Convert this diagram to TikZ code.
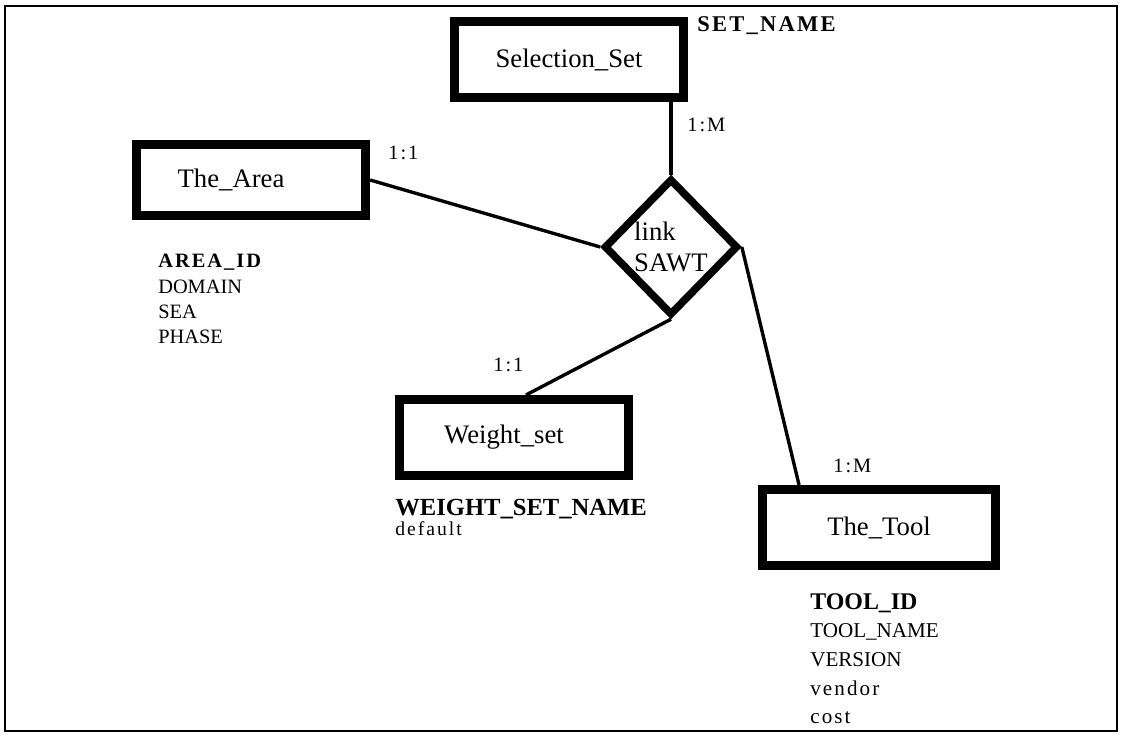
\documentclass[tikz,border=0pt]{standalone}
\usepackage{fontspec}
\setmainfont{Liberation Serif}
\newfontfamily\widefont[LetterSpace=10]{Liberation Serif}
\usetikzlibrary{shapes.geometric}
\usetikzlibrary{calc}

\begin{document}
\begin{tikzpicture}[x=0.025cm, y=-0.025cm,
  entity/.style={draw, rectangle, line width=6.4pt, minimum width=5.73cm, minimum height=1.9cm, inner sep=0pt, font=\fontsize{19}{22}\selectfont},
  relation/.style={draw, diamond, line width=5.4pt, minimum width=3.35cm, minimum height=3.42cm, inner sep=0pt, align=left, font=\fontsize{19}{22}\selectfont},
  conn/.style={line width=2.4pt},
  card/.style={anchor=base west, inner sep=0pt, font=\fontsize{14.5}{17}\widefont},
  attr/.style={anchor=north west, inner sep=0pt, align=left}]

\useasboundingbox (0,0) rectangle (1122,740);
\draw[line width=1.8pt] (5,6) rectangle (1117,731);

% entities and the relation
\node[entity] (sel) at (569,59.5) {Selection\_Set};
\node[entity, minimum height=1.77cm] (area) at (251,180) {The\_Area\hspace*{1cm}};
\node[entity] (wset) at (514,437.5) {Weight\_set\hspace*{0.5cm}};
\node[entity, minimum width=5.83cm] (tool) at (879,527.5) {The\_Tool};
\node[relation] (sawt) at (671,247) {link\\SAWT};

\draw[conn] (sawt.north |- sel.south) -- (sawt.north);
\draw[conn] (area.east) -- (sawt.west);
\draw[conn] (sawt.south) -- ($(wset.north west)!0.55!(wset.north east)$);
\draw[conn] (sawt.east) -- ($(tool.north west)!0.17!(tool.north east)$);

% cardinalities
\node[card] (cardsel) at (687,132) {1:M};
\node[card] (cardarea) at (388,160) {1:1};
\node[card] (cardwset) at (493,372) {1:1};
\node[card] (cardtool) at (833,472) {1:M};

% attributes
\node[card, font=\fontsize{16}{18}\widefont\bfseries] (setname) at (697,32) {SET\_NAME};
\node[attr, font=\fontsize{14.5}{18}\selectfont] (areaattr) at (158,254)
  {{\widefont\bfseries AREA\_ID}\\DOMAIN\\SEA\\PHASE};
\node[card, font=\fontsize{17.5}{20}\selectfont\bfseries] (wsetname) at (395,515) {WEIGHT\_SET\_NAME};
\node[card, font=\fontsize{14}{16}\widefont] (wsetdef) at (395,535) {default};
\node[attr, font=\fontsize{15}{20.4}\selectfont] (toolattr) at (810,593)
  {{\fontsize{17}{20.4}\selectfont\bfseries TOOL\_ID}\\TOOL\_NAME\\VERSION\\{\widefont vendor}\\{\widefont cost}};
\end{tikzpicture}
\end{document}
